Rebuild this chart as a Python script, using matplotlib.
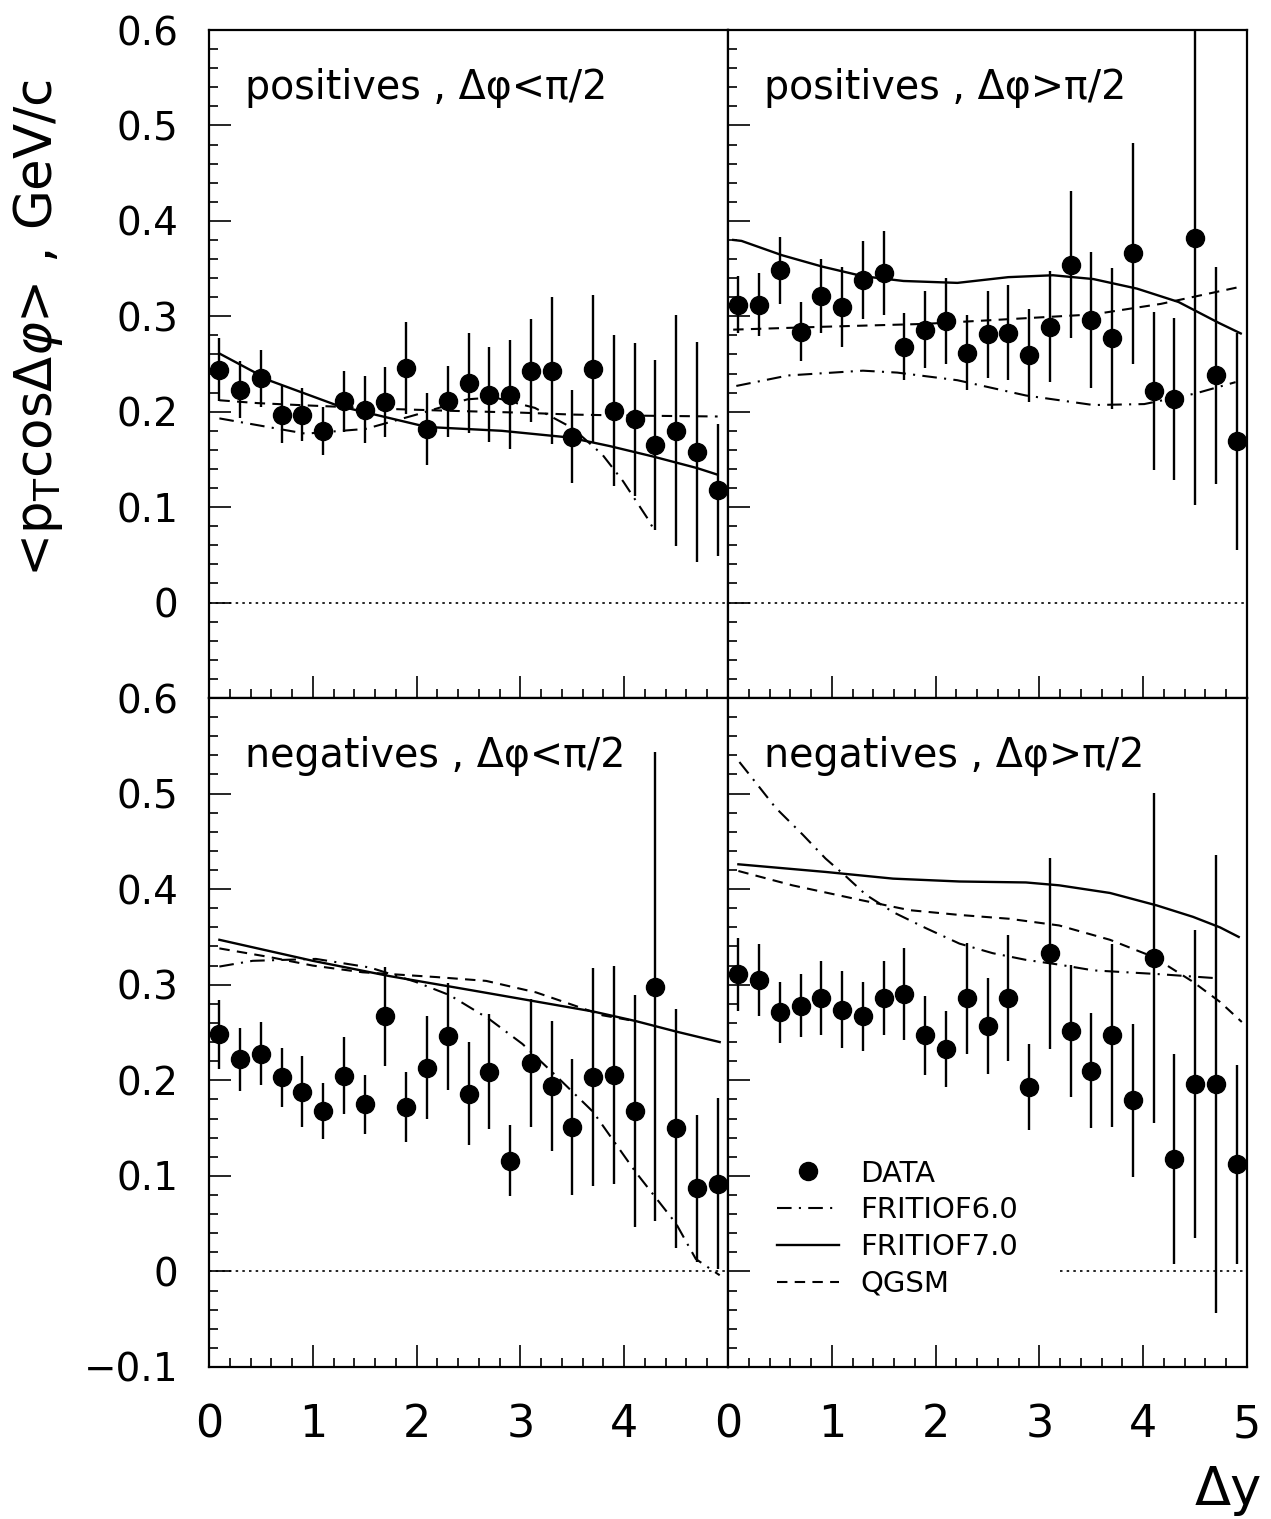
"""
    <pT cos dphi> versus rapidity gap dy, positives/negatives,
    dphi < pi/2 and dphi > pi/2, data compared with FRITIOF6.0, FRITIOF7.0, QGSM
"""

import matplotlib.pyplot as plt
from matplotlib.ticker import MultipleLocator, FixedLocator, FixedFormatter
from matplotlib.lines import Line2D

# bin centres in dy
dy = [0.1, 0.3, 0.5, 0.7, 0.9, 1.1, 1.3, 1.5, 1.7, 1.9, 2.1, 2.3, 2.5,
      2.7, 2.9, 3.1, 3.3, 3.5, 3.7, 3.9, 4.1, 4.3, 4.5, 4.7, 4.9]

# positives, dphi < pi/2
pos_lt = [0.244, 0.223, 0.235, 0.197, 0.197, 0.180, 0.211, 0.202, 0.210, 0.246, 0.182, 0.211, 0.230,
          0.218, 0.218, 0.243, 0.243, 0.174, 0.245, 0.201, 0.192, 0.165, 0.180, 0.158, 0.118]
pos_lt_err = [0.033, 0.030, 0.030, 0.030, 0.028, 0.025, 0.032, 0.035, 0.037, 0.048, 0.038, 0.037, 0.052,
              0.050, 0.057, 0.054, 0.077, 0.049, 0.077, 0.079, 0.080, 0.089, 0.121, 0.115, 0.069]
# positives, dphi > pi/2
pos_gt = [0.312, 0.312, 0.348, 0.284, 0.321, 0.310, 0.338, 0.345, 0.268, 0.286, 0.295, 0.262, 0.281,
          0.283, 0.259, 0.289, 0.354, 0.296, 0.277, 0.366, 0.222, 0.213, 0.382, 0.238, 0.169]
pos_gt_err = [0.030, 0.033, 0.035, 0.031, 0.039, 0.042, 0.041, 0.044, 0.035, 0.040, 0.045, 0.039, 0.046,
              0.050, 0.049, 0.058, 0.077, 0.071, 0.074, 0.116, 0.083, 0.085, 0.280, 0.114, 0.114]
# negatives, dphi < pi/2
neg_lt = [0.248, 0.222, 0.228, 0.203, 0.188, 0.168, 0.205, 0.175, 0.267, 0.172, 0.213, 0.246, 0.186,
          0.209, 0.116, 0.218, 0.194, 0.151, 0.203, 0.206, 0.168, 0.298, 0.150, 0.087, 0.092]
neg_lt_err = [0.036, 0.033, 0.033, 0.031, 0.037, 0.029, 0.040, 0.031, 0.052, 0.037, 0.054, 0.056, 0.054,
              0.060, 0.037, 0.067, 0.068, 0.071, 0.114, 0.114, 0.121, 0.245, 0.125, 0.077, 0.089]
# negatives, dphi > pi/2
neg_gt = [0.311, 0.305, 0.271, 0.278, 0.286, 0.274, 0.267, 0.286, 0.290, 0.247, 0.233, 0.286, 0.257,
          0.286, 0.193, 0.333, 0.252, 0.210, 0.247, 0.179, 0.328, 0.118, 0.196, 0.196, 0.112]
neg_gt_err = [0.038, 0.038, 0.032, 0.033, 0.039, 0.040, 0.036, 0.039, 0.048, 0.041, 0.040, 0.058, 0.050,
              0.066, 0.045, 0.100, 0.069, 0.060, 0.096, 0.080, 0.173, 0.110, 0.161, 0.240, 0.104]

# model curves, FRITIOF6.0 (dash-dot), FRITIOF7.0 (solid), QGSM (dashed)
f6_pos_lt_x = [0.1, 0.93, 1.51, 2.0, 2.49, 2.75, 3.14, 3.5, 3.79, 3.99, 4.22, 4.3]
f6_pos_lt = [0.193, 0.177, 0.182, 0.197, 0.213, 0.215, 0.204, 0.183, 0.155, 0.127, 0.089, 0.074]
f7_pos_lt_x = [0.1, 0.6, 1.25, 2.1, 2.82, 3.47, 3.86, 4.28, 4.7, 4.9]
f7_pos_lt = [0.261, 0.232, 0.206, 0.184, 0.180, 0.173, 0.164, 0.153, 0.141, 0.134]
qg_pos_lt_x = [0.1, 0.47, 0.86, 1.71, 2.31, 3.01, 3.5, 4.02, 4.9]
qg_pos_lt = [0.212, 0.209, 0.207, 0.203, 0.201, 0.199, 0.197, 0.196, 0.195]

f6_pos_gt_x = [0.08, 0.58, 1.3, 1.63, 2.21, 2.87, 3.52, 4.01, 4.5, 4.89]
f6_pos_gt = [0.227, 0.238, 0.243, 0.241, 0.233, 0.217, 0.207, 0.208, 0.219, 0.231]
f7_pos_gt_x = [0.05, 0.13, 0.52, 0.91, 1.3, 1.69, 2.21, 2.7, 3.13, 3.52, 3.94, 4.34, 4.73, 4.94]
f7_pos_gt = [0.380, 0.379, 0.364, 0.352, 0.342, 0.337, 0.335, 0.341, 0.343, 0.339, 0.329, 0.315, 0.293, 0.282]
qg_pos_gt_x = [0.05, 0.91, 1.89, 2.87, 3.52, 4.17, 4.94]
qg_pos_gt = [0.286, 0.289, 0.292, 0.298, 0.302, 0.313, 0.331]

f6_neg_lt_x = [0.1, 0.42, 1.03, 1.55, 1.99, 2.32, 2.7, 3.02, 3.34, 3.7, 4.11, 4.5, 4.69, 4.92]
f6_neg_lt = [0.319, 0.325, 0.327, 0.318, 0.303, 0.289, 0.264, 0.238, 0.205, 0.167, 0.104, 0.050, 0.013, -0.004]
f7_neg_lt_x = [0.1, 1.0, 1.74, 2.54, 3.12, 3.7, 4.11, 4.5, 4.92]
f7_neg_lt = [0.347, 0.325, 0.309, 0.294, 0.283, 0.272, 0.262, 0.251, 0.240]
qg_neg_lt_x = [0.1, 0.58, 1.0, 1.48, 2.19, 2.67, 3.15, 3.5, 3.79, 4.1]
qg_neg_lt = [0.338, 0.329, 0.320, 0.313, 0.308, 0.304, 0.292, 0.279, 0.268, 0.262]

f6_neg_gt_x = [0.11, 0.22, 0.46, 0.72, 0.94, 1.14, 1.33, 1.59, 1.91, 2.23, 2.55, 2.87, 3.19, 3.52, 3.84, 4.16, 4.68]
f6_neg_gt = [0.533, 0.518, 0.485, 0.457, 0.432, 0.413, 0.394, 0.376, 0.359, 0.343, 0.333, 0.326, 0.321,
             0.315, 0.313, 0.311, 0.307]
f7_neg_gt_x = [0.1, 0.94, 1.59, 2.23, 2.87, 3.19, 3.68, 4.13, 4.48, 4.74, 4.92]
f7_neg_gt = [0.426, 0.418, 0.411, 0.408, 0.407, 0.404, 0.396, 0.383, 0.371, 0.360, 0.350]
qg_neg_gt_x = [0.1, 0.62, 1.26, 1.75, 2.23, 2.71, 3.19, 3.68, 4.1, 4.48, 4.74, 4.95]
qg_neg_gt = [0.419, 0.404, 0.389, 0.378, 0.373, 0.369, 0.362, 0.347, 0.329, 0.303, 0.282, 0.261]

titles = ['positives , \u0394\u03c6<\u03c0/2', 'positives , \u0394\u03c6>\u03c0/2',
          'negatives , \u0394\u03c6<\u03c0/2', 'negatives , \u0394\u03c6>\u03c0/2']
# where the dotted zero line starts in each panel (hidden behind the key in the last one)
zero_from = [0.0, 0.0, 0.0, 3.2]

y_ticks = [-0.1, 0.0, 0.1, 0.2, 0.3, 0.4, 0.5, 0.6]
y_labels_top = ['', '0', '0.1', '0.2', '0.3', '0.4', '0.5', '0.6']
y_labels_bot = ['\u22120.1', '0', '0.1', '0.2', '0.3', '0.4', '0.5', '0.6']
x_ticks = [0, 1, 2, 3, 4, 5]
x_labels_left = ['0', '1', '2', '3', '4', '']
x_labels_right = ['0', '1', '2', '3', '4', '5']

key_labels = ['DATA', 'FRITIOF6.0', 'FRITIOF7.0', 'QGSM']

W, H = 1271, 1519
fig = plt.figure(figsize=(W / 100, H / 100), dpi=100)
fig.patch.set_facecolor('white')

left, mid, right = 209, 728, 1247
top, centre, bottom = 30, 698, 1367
boxes = [(left, top, mid, centre), (mid, top, right, centre),
         (left, centre, mid, bottom), (mid, centre, right, bottom)]

values = [pos_lt, pos_gt, neg_lt, neg_gt]
errors = [pos_lt_err, pos_gt_err, neg_lt_err, neg_gt_err]
f6 = [(f6_pos_lt_x, f6_pos_lt), (f6_pos_gt_x, f6_pos_gt), (f6_neg_lt_x, f6_neg_lt), (f6_neg_gt_x, f6_neg_gt)]
f7 = [(f7_pos_lt_x, f7_pos_lt), (f7_pos_gt_x, f7_pos_gt), (f7_neg_lt_x, f7_neg_lt), (f7_neg_gt_x, f7_neg_gt)]
qg = [(qg_pos_lt_x, qg_pos_lt), (qg_pos_gt_x, qg_pos_gt), (qg_neg_lt_x, qg_neg_lt), (qg_neg_gt_x, qg_neg_gt)]

dashdot = (0, (7, 3.5, 1, 3.5))
dashed = (0, (5, 3.5))
dotted = (0, (1.5, 2.5))

axes = []
for i, (x0, y0, x1, y1) in enumerate(boxes):
    ax = fig.add_axes([x0 / W, 1 - y1 / H, (x1 - x0) / W, (y1 - y0) / H])
    axes.append(ax)
    ax.set_xlim(0, 5)
    ax.set_ylim(-0.1, 0.6)

    # data points
    ax.errorbar(dy, values[i], yerr=errors[i], fmt='o', color='black', ms=13,
                elinewidth=1.7, capsize=0, zorder=5)
    # models
    ax.plot(*f6[i], color='black', lw=1.5, ls=dashdot)
    ax.plot(*f7[i], color='black', lw=1.7, ls='-')
    ax.plot(*qg[i], color='black', lw=1.5, ls=dashed)
    ax.axhline(0, xmin=zero_from[i] / 5, xmax=1, color='black', lw=1.2, ls=dotted)

    ax.text(0.35, 0.528, titles[i], fontsize=28.5, ha='left', va='baseline')

    for s in ax.spines.values():
        s.set_linewidth(1.6)
    ax.xaxis.set_major_locator(FixedLocator(x_ticks))
    ax.xaxis.set_minor_locator(MultipleLocator(0.2))
    ax.yaxis.set_major_locator(FixedLocator(y_ticks))
    ax.yaxis.set_minor_locator(MultipleLocator(0.02))
    ax.tick_params(which='both', direction='in', top=False, right=False, width=1.2)
    ax.tick_params(which='major', length=16)
    ax.tick_params(which='minor', length=6.5)

    if i % 2 == 0:
        ax.yaxis.set_major_formatter(FixedFormatter(y_labels_top if i < 2 else y_labels_bot))
        ax.tick_params(axis='y', labelsize=28, pad=22)
    else:
        ax.tick_params(axis='y', labelleft=False)
    if i < 2:
        ax.tick_params(axis='x', labelbottom=False)
    else:
        ax.xaxis.set_major_formatter(FixedFormatter(x_labels_left if i == 2 else x_labels_right))
        ax.tick_params(axis='x', pad=26, labelsize=32)

# key in the last panel
handles = [Line2D([], [], marker='o', ls='none', color='black', ms=13),
           Line2D([], [], color='black', lw=1.5, ls=dashdot),
           Line2D([], [], color='black', lw=1.7, ls='-'),
           Line2D([], [], color='black', lw=1.5, ls=dashed)]
axes[3].legend(handles, key_labels, loc='upper left', bbox_to_anchor=(0.095, 0.31),
               frameon=False, borderpad=0, borderaxespad=0, handlelength=2.1,
               handletextpad=0.75, labelspacing=0.3, prop={'size': 21})

fig.text(38 / W, 1 - 328 / H, r'<p$_\mathrm{T}$cos$\Delta\varphi$> , GeV/c',
         rotation=90, ha='center', va='center', fontsize=37)
fig.text(1228 / W, 1 - 1490 / H, '\u0394y', ha='center', va='center', fontsize=38)

fig.savefig('out.png', dpi=100, facecolor='white')
